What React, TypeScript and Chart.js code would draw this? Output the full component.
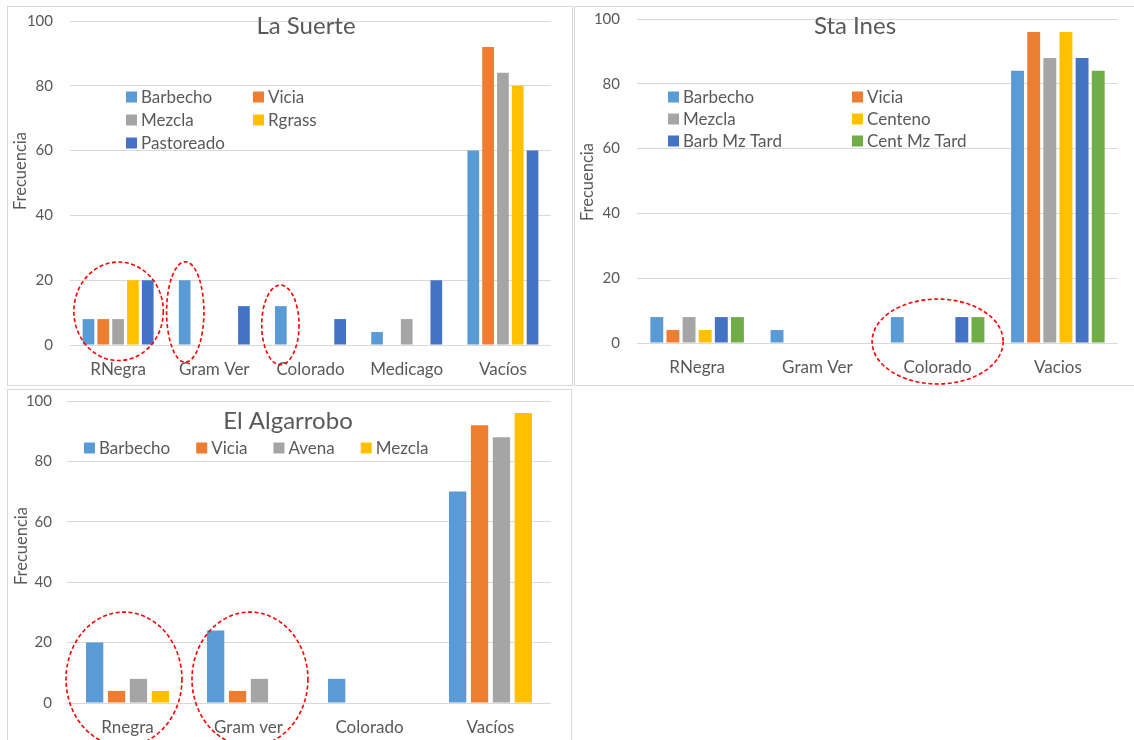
import React, { useEffect, useRef } from "react";
import { Chart, registerables } from "chart.js";

Chart.register(...registerables);

// ---------- Data ----------
const yTicksMin = 0;
const yTicksMax = 100;
const yTickStep = 20;
const yAxisTitle = "Frecuencia";

// La Suerte
const suerteCategories = ["RNegra", "Gram Ver", "Colorado", "Medicago", "Vacíos"];
const suerteBarbecho = [8, 20, 12, 4, 60];
const suerteVicia = [8, 0, 0, 0, 92];
const suerteMezcla = [8, 0, 0, 8, 84];
const suerteRgrass = [20, 0, 0, 0, 80];
const suertePastoreado = [20, 12, 8, 20, 60];

// Sta Ines
const inesCategories = ["RNegra", "Gram Ver", "Colorado", "Vacios"];
const inesBarbecho = [8, 4, 8, 84];
const inesVicia = [4, 0, 0, 96];
const inesMezcla = [8, 0, 0, 88];
const inesCenteno = [4, 0, 0, 96];
const inesBarbMzTard = [8, 0, 8, 88];
const inesCentMzTard = [8, 0, 8, 84];

// El Algarrobo
const algCategories = ["Rnegra", "Gram ver", "Colorado", "Vacíos"];
const algBarbecho = [20, 24, 8, 70];
const algVicia = [4, 4, 0, 92];
const algAvena = [8, 8, 0, 88];
const algMezcla = [4, 0, 0, 96];

// Highlight ellipses (category index, offset in category widths, y value, radii)
const suerteEllipses = [
  { cat: 0, dx: 0.005, y: 10.4, rx: 0.465, ry: 15.2 },
  { cat: 1, dx: -0.302, y: 10.2, rx: 0.194, ry: 15.5 },
  { cat: 2, dx: -0.313, y: 6.2, rx: 0.194, ry: 12.3 },
];
const inesEllipses = [{ cat: 2, dx: 0, y: 0.46, rx: 0.545, ry: 13.1 }];
const algEllipses = [
  { cat: 0, dx: -0.029, y: 7.9, rx: 0.479, ry: 22.2 },
  { cat: 1, dx: 0.012, y: 7.9, rx: 0.479, ry: 22.2 },
];

// ---------- Style ----------
const C_BLUE = "#5B9BD5";
const C_ORANGE = "#ED7D31";
const C_GRAY = "#A5A5A5";
const C_YELLOW = "#FFC000";
const C_DARKBLUE = "#4472C4";
const C_GREEN = "#70AD47";
const TEXT = "#595959";
const GRID = "#D9D9D9";
const FONT = "Lato, 'Open Sans', sans-serif";

type Series = { label: string; data: number[]; color: string };
type Ell = { cat: number; dx: number; y: number; rx: number; ry: number };
type Cfg = {
  title: string;
  titleX: number;
  titleY: number;
  yTitleX: number;
  yTitleY: number;
  categories: string[];
  series: Series[];
  legend: { x: number; y: number; colW?: number; rowH?: number; cols?: number; gap?: number; flow?: boolean };
  area: { left: number; top: number; right: number; bottom: number };
  tickPad: number;
  catPct: number;
  barPct: number;
  ellipses: Ell[];
};

function makeOverlay(cfg: Cfg) {
  return {
    id: "overlay",
    afterDraw(chart: any) {
      const ctx = chart.ctx as CanvasRenderingContext2D;
      ctx.save();
      // title
      ctx.fillStyle = TEXT;
      ctx.font = `24px ${FONT}`;
      ctx.textAlign = "center";
      ctx.textBaseline = "middle";
      ctx.fillText(cfg.title, cfg.titleX, cfg.titleY);
      // y axis title
      ctx.save();
      ctx.font = `16.5px ${FONT}`;
      ctx.translate(cfg.yTitleX, cfg.yTitleY);
      ctx.rotate(-Math.PI / 2);
      ctx.fillText(yAxisTitle, 0, 0);
      ctx.restore();
      // legend
      ctx.font = `17px ${FONT}`;
      ctx.textAlign = "left";
      const L = cfg.legend;
      let fx = L.x;
      cfg.series.forEach((s, i) => {
        let x: number, y: number;
        if (L.flow) {
          x = fx;
          y = L.y;
        } else {
          const cols = L.cols || 2;
          x = L.x + (i % cols) * (L.colW || 0);
          y = L.y + Math.floor(i / cols) * (L.rowH || 0);
        }
        ctx.fillStyle = s.color;
        ctx.fillRect(x, y - 5.5, 11, 11);
        ctx.fillStyle = TEXT;
        ctx.fillText(s.label, x + 15, y + 0.5);
        if (L.flow) fx = x + 15 + ctx.measureText(s.label).width + (L.gap || 0);
      });
      // ellipses
      const xs = chart.scales.x;
      const ys = chart.scales.y;
      const catW = xs.getPixelForValue(1) - xs.getPixelForValue(0);
      const unit = Math.abs(ys.getPixelForValue(0) - ys.getPixelForValue(1));
      ctx.strokeStyle = "#FF0000";
      ctx.lineWidth = 1.6;
      ctx.setLineDash([4, 2.5]);
      cfg.ellipses.forEach((e) => {
        const cx = xs.getPixelForValue(e.cat) + e.dx * catW;
        const cy = ys.getPixelForValue(e.y);
        ctx.beginPath();
        ctx.ellipse(cx, cy, e.rx * catW, e.ry * unit, 0, 0, Math.PI * 2);
        ctx.stroke();
      });
      ctx.restore();
    },
  };
}

function Panel({ left, top, width, height, cfg }: { left: number; top: number; width: number; height: number; cfg: Cfg }) {
  const ref = useRef<HTMLCanvasElement>(null);
  const cw = width - 2;
  const ch = height - 2;
  useEffect(() => {
    const a = cfg.area;
    const chart = new Chart(ref.current as HTMLCanvasElement, {
      type: "bar",
      data: {
        labels: cfg.categories,
        datasets: cfg.series.map((s) => ({
          label: s.label,
          data: s.data,
          backgroundColor: s.color,
          borderWidth: 0,
          categoryPercentage: cfg.catPct,
          barPercentage: cfg.barPct,
        })),
      },
      options: {
        responsive: false,
        maintainAspectRatio: false,
        animation: false,
        devicePixelRatio: 1,
        layout: { padding: { left: 0, top: a.top, right: cw - a.right, bottom: 0 } },
        plugins: { legend: { display: false }, title: { display: false }, tooltip: { enabled: false } },
        scales: {
          x: {
            grid: { display: false, drawTicks: false },
            border: { display: false },
            ticks: { color: TEXT, font: { family: FONT, size: 17 }, padding: 14, maxRotation: 0, autoSkip: false },
            afterFit: (s: any) => {
              s.height = ch - a.bottom;
              s.paddingLeft = 0;
              s.paddingRight = 0;
              s.paddingTop = 0;
              s.paddingBottom = 0;
            },
          },
          y: {
            min: yTicksMin,
            max: yTicksMax,
            grid: { color: GRID, lineWidth: 1, drawTicks: false },
            border: { display: false },
            ticks: { stepSize: yTickStep, color: TEXT, font: { family: FONT, size: 15 }, padding: cfg.tickPad },
            afterFit: (s: any) => {
              s.width = a.left;
              s.paddingTop = 0;
              s.paddingBottom = 0;
              s.paddingLeft = 0;
              s.paddingRight = 0;
            },
          },
        },
      },
      plugins: [makeOverlay(cfg)],
    } as any);
    return () => chart.destroy();
  }, []);
  return (
    <div
      style={{
        position: "absolute",
        left,
        top,
        width,
        height,
        border: `1px solid ${GRID}`,
        boxSizing: "border-box",
        background: "#fff",
      }}
    >
      <canvas ref={ref} width={cw} height={ch} style={{ display: "block", width: cw, height: ch }} />
    </div>
  );
}

const suerteCfg: Cfg = {
  title: "La Suerte",
  titleX: 298,
  titleY: 19,
  yTitleX: 13,
  yTitleY: 164,
  categories: suerteCategories,
  series: [
    { label: "Barbecho", data: suerteBarbecho, color: C_BLUE },
    { label: "Vicia", data: suerteVicia, color: C_ORANGE },
    { label: "Mezcla", data: suerteMezcla, color: C_GRAY },
    { label: "Rgrass", data: suerteRgrass, color: C_YELLOW },
    { label: "Pastoreado", data: suertePastoreado, color: C_DARKBLUE },
  ],
  legend: { x: 118, y: 90, colW: 127, rowH: 23, cols: 2 },
  area: { left: 62, top: 14, right: 543, bottom: 338 },
  tickPad: 17,
  catPct: 0.77,
  barPct: 0.79,
  ellipses: suerteEllipses,
};

const inesCfg: Cfg = {
  title: "Sta Ines",
  titleX: 280,
  titleY: 19,
  yTitleX: 13,
  yTitleY: 175,
  categories: inesCategories,
  series: [
    { label: "Barbecho", data: inesBarbecho, color: C_BLUE },
    { label: "Vicia", data: inesVicia, color: C_ORANGE },
    { label: "Mezcla", data: inesMezcla, color: C_GRAY },
    { label: "Centeno", data: inesCenteno, color: C_YELLOW },
    { label: "Barb Mz Tard", data: inesBarbMzTard, color: C_DARKBLUE },
    { label: "Cent Mz Tard", data: inesCentMzTard, color: C_GREEN },
  ],
  legend: { x: 93, y: 90, colW: 184, rowH: 22, cols: 2 },
  area: { left: 62, top: 12, right: 543, bottom: 336 },
  tickPad: 17,
  catPct: 0.805,
  barPct: 0.8,
  ellipses: inesEllipses,
};

const algCfg: Cfg = {
  title: "El Algarrobo",
  titleX: 280,
  titleY: 31,
  yTitleX: 14,
  yTitleY: 156,
  categories: algCategories,
  series: [
    { label: "Barbecho", data: algBarbecho, color: C_BLUE },
    { label: "Vicia", data: algVicia, color: C_ORANGE },
    { label: "Avena", data: algAvena, color: C_GRAY },
    { label: "Mezcla", data: algMezcla, color: C_YELLOW },
  ],
  legend: { x: 76, y: 58, gap: 26, flow: true },
  area: { left: 59, top: 11, right: 543, bottom: 313 },
  tickPad: 15,
  catPct: 0.724,
  barPct: 0.79,
  ellipses: algEllipses,
};

export default function App() {
  return (
    <div
      style={{
        position: "absolute",
        left: 0,
        top: 0,
        width: 1134,
        height: 740,
        overflow: "hidden",
        background: "#fff",
      }}
    >
      <Panel left={7} top={6} width={566} height={380} cfg={suerteCfg} />
      <Panel left={574} top={6} width={562} height={380} cfg={inesCfg} />
      <Panel left={7} top={389} width={565} height={360} cfg={algCfg} />
    </div>
  );
}
